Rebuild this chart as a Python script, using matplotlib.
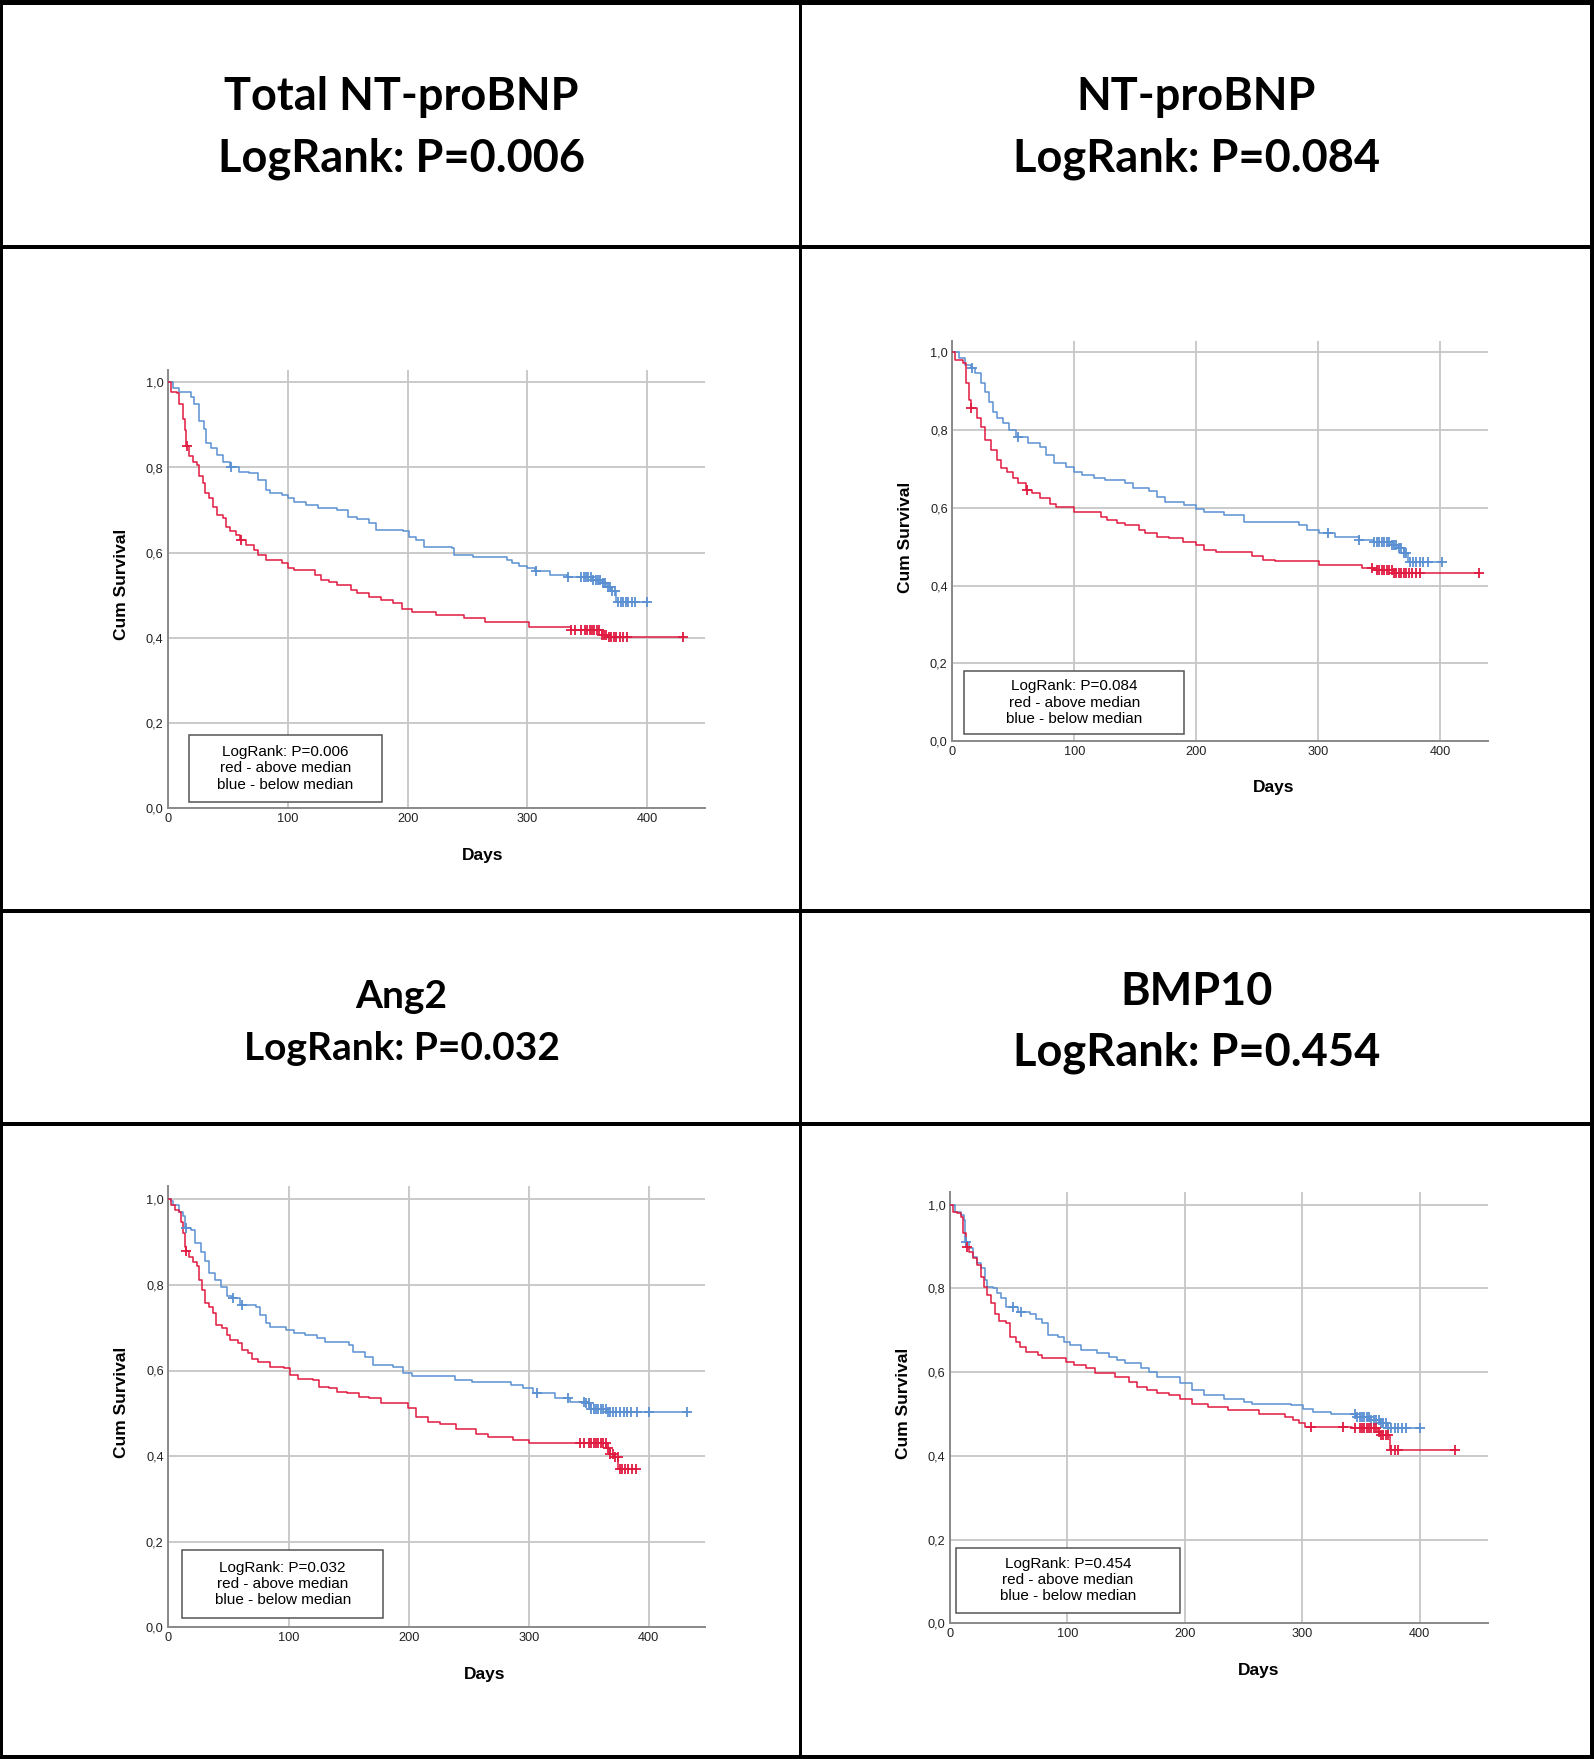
import matplotlib

matplotlib.use("Agg")
import matplotlib.pyplot as plt
import numpy as np
from matplotlib.lines import Line2D
from matplotlib.patches import Rectangle

W, H = 1594, 1759

# ---- data ----
titles = ["Total NT-proBNP", "NT-proBNP", "Ang2", "BMP10"]
p_values = ["0.006", "0.084", "0.032", "0.454"]
y_ticks = [0.0, 0.2, 0.4, 0.6, 0.8, 1.0]
x_ticks = [0, 100, 200, 300, 400]

# Total NT-proBNP
tnt_blue_days = [0, 4, 9, 19, 22, 26, 30, 32, 36, 41, 46, 52, 59, 68, 75, 82, 85, 95, 100, 105,
                 115, 125, 141, 150, 158, 168, 174, 196, 201, 207, 214, 237, 239, 255, 283, 287,
                 293, 300, 306, 319, 333, 355, 362, 366, 370, 374, 400]
tnt_blue_surv = [1.0, .986, .978, .966, .95, .91, .89, .857, .845, .83, .814, .80, .79, .786, .77,
                 .747, .74, .735, .728, .72, .712, .704, .70, .684, .68, .669, .653, .65, .638, .63,
                 .614, .61, .595, .591, .583, .575, .569, .563, .556, .548, .542, .535, .528, .52,
                 .51, .485, .485]
tnt_blue_cens = [53, 307, 334, 345, 347, 349, 351, 353, 355, 357, 359, 361, 363, 365, 367, 369,
                 371, 373, 376, 378, 380, 382, 384, 387, 390, 400]
tnt_red_days = [0, 2.6, 7.6, 9.2, 12.5, 14.2, 15.2, 17.5, 20.8, 24, 25.7, 29, 30.7, 34, 37.3, 40.6,
                45.5, 48.8, 52, 57, 60, 65.3, 72, 75.2, 81.8, 95, 100, 105, 123, 128, 134.7, 141,
                153, 158, 168, 177.6, 187.5, 195.7, 204, 223.8, 246.9, 265, 301, 336, 362, 367, 430]
tnt_red_surv = [1.0, .978, .974, .95, .915, .888, .85, .826, .814, .806, .78, .763, .74, .728,
                .708, .689, .681, .66, .652, .642, .63, .619, .607, .595, .583, .575, .563, .559,
                .548, .536, .532, .524, .512, .505, .497, .489, .481, .469, .461, .454, .446, .438,
                .426, .418, .406, .403, .403]
tnt_red_cens = [15.5, 61, 336, 340, 345, 348, 350, 352, 354, 356, 358, 360, 362, 364, 366, 368,
                370, 372, 374, 377, 380, 383, 430]

# NT-proBNP
nt_blue_days = [0, 5.5, 10.4, 15.2, 18.5, 23.3, 26.6, 29.8, 33, 36.3, 41.2, 46, 52.5, 62.2, 72,
                76.8, 83.3, 93, 99.5, 106, 115.7, 125.4, 141.6, 148, 161, 167.6, 174, 190, 200,
                206.5, 222.7, 239, 284, 290.8, 300.5, 313.5, 333, 346, 359, 365, 370, 373.4, 401]
nt_blue_surv = [1.0, .985, .967, .959, .946, .92, .899, .873, .847, .83, .817, .80, .783, .766,
                .757, .736, .714, .706, .693, .684, .676, .672, .663, .65, .642, .629, .616, .607,
                .598, .59, .581, .564, .556, .543, .534, .525, .517, .512, .504, .496, .483, .461,
                .461]
nt_blue_cens = [16, 54, 308, 333, 346, 348, 350, 352, 354, 356, 358, 360, 362, 364, 366, 368, 370,
                372, 375, 378, 380, 383, 386, 390, 401]
nt_red_days = [0, 2.3, 8.8, 11.3, 13.6, 15.2, 20.1, 23.3, 26.6, 31.4, 36.3, 39.5, 44.4, 49.3, 54.1,
               60.6, 65.5, 72, 80, 85, 99.5, 122, 127, 135, 141.6, 153, 158, 167.6, 177.3, 188.7,
               200, 206.5, 216, 245.4, 255, 264.8, 300.5, 336, 346, 362, 431.8]
nt_red_surv = [1.0, .98, .972, .92, .877, .856, .83, .809, .774, .749, .723, .702, .693, .676,
               .663, .646, .637, .624, .611, .602, .589, .577, .568, .56, .555, .543, .534, .525,
               .521, .512, .504, .491, .485, .475, .466, .462, .453, .445, .44, .432, .432]
nt_red_cens = [15.5, 61, 344, 348, 350, 352, 354, 356, 358, 360, 362, 364, 366, 368, 370, 372,
               374, 377, 380, 383, 431.8]

# Ang2
ang_blue_days = [0, 2.3, 4, 8.9, 12.2, 13.8, 18.8, 22, 27, 30.3, 33.6, 38.5, 43.5, 48.4, 53, 60,
                 73, 76.4, 81.3, 84.6, 97.8, 104.4, 114, 124, 130.7, 150.5, 153.7, 163.6, 170,
                 186.7, 195, 203, 239, 252.5, 285.4, 295.3, 303.5, 321.6, 334.8, 346.3, 351.3,
                 364.4, 432]
ang_blue_surv = [1.0, .995, .987, .971, .96, .932, .928, .897, .878, .857, .827, .812, .796, .773,
                 .769, .753, .749, .73, .71, .702, .695, .687, .683, .675, .667, .66, .644, .632,
                 .612, .608, .593, .586, .578, .574, .566, .558, .547, .535, .527, .523, .511,
                 .503, .503]
ang_blue_cens = [14.5, 53.5, 61, 307, 333, 346, 348, 350, 352, 354, 356, 358, 360, 362, 364, 366,
                 368, 370, 373, 376, 379, 382, 385, 390, 400, 432]
ang_red_days = [0, 2.3, 5.6, 8.9, 10.5, 12.2, 13.8, 14.8, 17.1, 20.4, 23.7, 25.3, 28, 30.3, 33.6,
                36.9, 39.5, 45, 48.4, 51.7, 58.3, 61.6, 66.5, 69.8, 74.7, 84.6, 96.1, 101, 107.7,
                120.8, 125.8, 134, 140.6, 148.8, 158.7, 166.9, 176.8, 199.8, 206.4, 216.3, 226.2,
                239.3, 255.8, 265.7, 287, 300.2, 364.4, 367.7, 371, 374.3, 389]
ang_red_surv = [1.0, .987, .975, .971, .948, .921, .889, .88, .866, .854, .843, .812, .788, .757,
                .749, .734, .706, .699, .683, .671, .664, .648, .64, .628, .62, .609, .605, .589,
                .581, .577, .562, .558, .55, .547, .539, .535, .523, .512, .492, .48, .476, .464,
                .452, .445, .437, .43, .418, .406, .398, .369, .369]
ang_red_cens = [15, 343, 346, 350, 352, 354, 356, 358, 360, 362, 364, 366, 368, 370, 372, 374,
                376, 378, 380, 383, 386, 389]

# BMP10
bmp_blue_days = [0, 4.4, 9.4, 11.8, 12.8, 16.2, 19.5, 22.9, 26.3, 29.6, 31.3, 36.4, 39.7, 43.1,
                 48.1, 58, 68.4, 73.4, 78.5, 83.5, 91.9, 97, 102, 112, 125.6, 135.7, 142.4, 149,
                 162.6, 169.4, 176, 196.3, 206.4, 216.5, 233.3, 250.2, 257, 290.6, 300.7, 309,
                 324.2, 346, 358, 366.3, 371.4, 400]
bmp_blue_surv = [1.0, .983, .975, .963, .912, .896, .876, .86, .848, .82, .804, .80, .788, .776,
                 .756, .744, .74, .728, .717, .689, .685, .673, .665, .653, .645, .637, .629, .621,
                 .609, .601, .589, .573, .557, .545, .537, .529, .525, .521, .513, .505, .501,
                 .494, .486, .478, .466, .466]
bmp_blue_cens = [13.5, 53.5, 60.5, 345, 347, 349, 351, 353, 355, 357, 359, 361, 363, 365, 367,
                 369, 371, 373, 376, 379, 382, 385, 388, 400]
bmp_red_days = [0, 2.7, 6.1, 9.4, 11.1, 13.8, 16.2, 19.5, 22.9, 26.3, 28.6, 31.3, 34.7, 38, 41.4,
                48.1, 51.5, 56.6, 60, 65, 75, 78.5, 98.7, 105.4, 115.5, 123.9, 140.7, 152.5,
                159.3, 167.7, 176, 186.2, 196.3, 206.4, 219.9, 236.7, 263.6, 285.5, 292.3, 297.3,
                302.4, 342.8, 364.6, 366.3, 374.7, 430]
bmp_red_surv = [1.0, .983, .979, .971, .932, .90, .888, .872, .856, .828, .804, .785, .764, .74,
                .721, .717, .685, .673, .661, .649, .641, .633, .625, .617, .609, .597, .589, .577,
                .565, .557, .549, .545, .537, .525, .517, .509, .501, .494, .486, .478, .47, .466,
                .458, .45, .414, .414]
bmp_red_cens = [14.5, 307.5, 335, 345, 349, 351, 353, 355, 357, 359, 361, 363, 365, 367, 369,
                371, 373, 376, 379, 382, 430]

BLUE = "#5a90d2"
RED = "#e01a40"

# ---- layout in pixels: axes left, px per day, x max, y of 0, px per unit ----
panel_layout = [
    (168.0, 1.198, 448, 808.3, 426.0),
    (952.4, 1.2198, 439, 741.0, 388.7),
    (168.4, 1.201, 446.7, 1627.3, 428.0),
    (950.0, 1.174, 458, 1623.3, 418.6),
]
# legend box (axes fraction): x0, y0, x1, y1
box_layout = [
    (0.039, 0.015, 0.399, 0.167),
    (0.022, 0.017, 0.433, 0.175),
    (0.026, 0.022, 0.400, 0.175),
    (0.011, 0.025, 0.428, 0.175),
]
# title: centre x, baseline line 1, baseline line 2, font size
title_layout = [
    (401.5, 110.0, 171.7, 32.5),
    (1196.5, 110.0, 171.7, 32.5),
    (401.5, 1008.3, 1060.0, 28),
    (1196.5, 1005.0, 1065.0, 32.5),
]
Y_TOP = 1.03


def fx(x):
    return x / W


def fy(y):
    return 1 - y / H


def censor_y(days, surv, cens):
    idx = np.searchsorted(np.asarray(days), np.asarray(cens), side="right") - 1
    return np.asarray(surv)[idx]


def draw_panel(fig, layout, box, curves, p_text):
    left, ppd, xmax, y0, ppu = layout
    ax = fig.add_axes([fx(left), fy(y0), (ppd * xmax) / W, (ppu * Y_TOP) / H])
    ax.set_xlim(0, xmax)
    ax.set_ylim(0, Y_TOP)

    for days, surv, cens, color in curves:
        ax.step(days, surv, where="post", color=color, lw=1.1, zorder=3)
        ax.plot(cens, censor_y(days, surv, cens), ls="none", marker="+",
                ms=7.5, mew=1.3, color=color, zorder=4)

    ax.set_xticks(x_ticks)
    ax.set_xticklabels([str(v) for v in x_ticks])
    ax.set_yticks(y_ticks)
    ax.set_yticklabels([f"{v:.1f}".replace(".", ",") for v in y_ticks])
    ax.tick_params(length=0, pad=3.4, labelsize=9.2, colors="#222222")
    for lab in ax.get_xticklabels() + ax.get_yticklabels():
        lab.set_family("Liberation Sans")

    ax.grid(True, color="#c6c6c6", lw=1.3)
    ax.set_axisbelow(True)
    for side in ("top", "right"):
        ax.spines[side].set_visible(False)
    for side in ("left", "bottom"):
        ax.spines[side].set_color("#8a8a8a")
        ax.spines[side].set_linewidth(1.4)

    ax.annotate("Cum Survival", xy=(0, 0.525), xycoords="data", xytext=(-47, 0),
                textcoords="offset pixels", rotation=90, ha="center", va="center",
                fontsize=12.5, fontweight="bold", family="Liberation Sans")
    ax.annotate("Days", xy=(263, 0), xycoords="data", xytext=(0, -47),
                textcoords="offset pixels", ha="center", va="center",
                fontsize=12.5, fontweight="bold", family="Liberation Sans")

    bx0, by0, bx1, by1 = box
    ax.add_patch(Rectangle((bx0, by0), bx1 - bx0, by1 - by0, transform=ax.transAxes,
                           facecolor="white", edgecolor="#555555", lw=1.1, zorder=5))
    ax.text((bx0 + bx1) / 2, (by0 + by1) / 2,
            f"LogRank: P={p_text}\nred - above median\nblue - below median",
            transform=ax.transAxes, ha="center", va="center", fontsize=11,
            linespacing=1.2, family="Liberation Sans", zorder=6)
    return ax


def hline(fig, y, x0, x1, px):
    fig.add_artist(Line2D([fx(x0), fx(x1)], [fy(y), fy(y)], transform=fig.transFigure,
                          color="black", lw=px * 0.72, solid_capstyle="butt"))


def vline(fig, x, y0, y1, px):
    fig.add_artist(Line2D([fx(x), fx(x)], [fy(y0), fy(y1)], transform=fig.transFigure,
                          color="black", lw=px * 0.72, solid_capstyle="butt"))


fig = plt.figure(figsize=(W / 100, H / 100), dpi=100)
fig.patch.set_facecolor("white")

all_curves = [
    [(tnt_blue_days, tnt_blue_surv, tnt_blue_cens, BLUE),
     (tnt_red_days, tnt_red_surv, tnt_red_cens, RED)],
    [(nt_blue_days, nt_blue_surv, nt_blue_cens, BLUE),
     (nt_red_days, nt_red_surv, nt_red_cens, RED)],
    [(ang_blue_days, ang_blue_surv, ang_blue_cens, BLUE),
     (ang_red_days, ang_red_surv, ang_red_cens, RED)],
    [(bmp_blue_days, bmp_blue_surv, bmp_blue_cens, BLUE),
     (bmp_red_days, bmp_red_surv, bmp_red_cens, RED)],
]

for i in range(4):
    draw_panel(fig, panel_layout[i], box_layout[i], all_curves[i], p_values[i])
    cx, b1, b2, size = title_layout[i]
    fig.text(fx(cx), fy(b1), titles[i], ha="center", va="baseline", fontsize=size,
             fontweight="bold", family="Lato")
    fig.text(fx(cx), fy(b2), f"LogRank: P={p_values[i]}", ha="center", va="baseline",
             fontsize=size, fontweight="bold", family="Lato")

# table borders
hline(fig, 0, 0, W, 9)
hline(fig, H, 0, W, 9)
vline(fig, 0, 0, H, 6)
vline(fig, W, 0, H, 8)
hline(fig, 247, 0, W, 4)
hline(fig, 911, 0, W, 4)
hline(fig, 1124, 0, W, 4)
vline(fig, 800, 0, H, 3)

fig.savefig("out.png", dpi=100, facecolor="white")
plt.close(fig)
